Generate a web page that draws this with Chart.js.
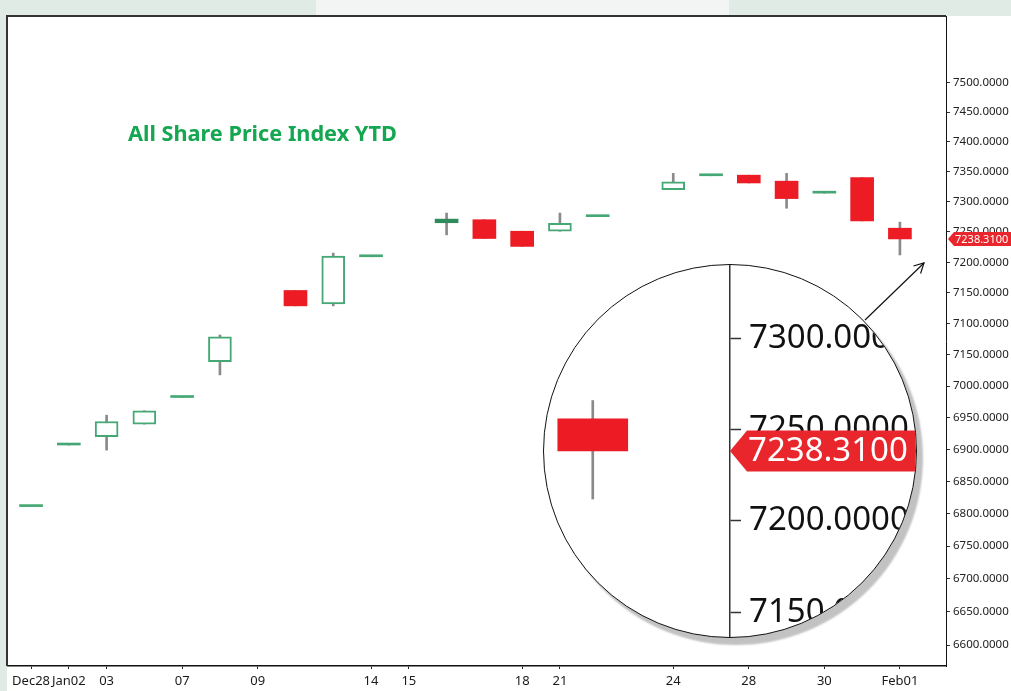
<!DOCTYPE html>
<html>
<head>
<meta charset="utf-8">
<script src="https://cdn.jsdelivr.net/npm/chart.js@4.4.1/dist/chart.umd.min.js"></script>
<style>
  html, body { margin: 0; padding: 0; background: #fff; overflow: hidden; }
  #wrap { position: relative; width: 1011px; height: 691px; }
  #main { position: absolute; left: 0; top: 0; }
  #title { position: absolute; left: 128px; top: 118px; font: bold 21.7px 'Noto Sans', sans-serif; color: #14a650; white-space: nowrap; }
  #lens { position: absolute; left: 543px; top: 264px; width: 374px; height: 374px; box-sizing: border-box;
          border: 1px solid #111; border-radius: 50%; overflow: hidden; background: #fff; box-shadow: 6px 7px 2px #c2c2c2; }
  #lensCv { position: absolute; left: 0; top: 0; }
  #arrow { position: absolute; left: 0; top: 0; pointer-events: none; }
</style>
</head>
<body>
<div id="wrap">
  <canvas id="main" width="1011" height="691"></canvas>
  <div id="title">All Share Price Index YTD</div>
  <div id="lens"><canvas id="lensCv" width="460" height="372"></canvas></div>
  <svg id="arrow" width="1011" height="691">
    <line x1="865" y1="320" x2="924" y2="263" stroke="#111" stroke-width="1.2"/>
    <polyline points="913.4,266 924,263 920.6,273.5" fill="none" stroke="#111" stroke-width="1.2"/>
  </svg>
</div>
<script>
// trading days, Dec 28 -> Feb 01
const days = ['Dec28','Jan02','Jan03','Jan04','Jan07','Jan08','Jan09','Jan10','Jan11','Jan14','Jan15','Jan16',
              'Jan17','Jan18','Jan21','Jan22','Jan23','Jan24','Jan25','Jan28','Jan29','Jan30','Jan31','Feb01'];
const opens  = [6811,6907,6920,6940,6982,7039,null,7154,7132,7209,null,7265,7270,7251,7251,7275,null,7320,7343,7344,7334,7314,7340,7256];
const highs  = [6811,6907,6954,6961,6982,7082,null,7154,7215,7209,null,7281,7270,7251,7281,7275,null,7347,7343,7344,7347,7314,7340,7266];
const lows   = [6811,6907,6899,6940,6982,7018,null,7129,7129,7209,null,7245,7239,7226,7251,7275,null,7320,7343,7331,7289,7314,7268,7212];
const closes = [6811,6907,6944,6961,6982,7079,null,7129,7210,7209,null,7271,7239,7226,7264,7275,null,7333,7343,7331,7305,7314,7268,7238.31];

// axis ticks
const xTickIdx  = [0,1,2,4,6,9,10,13,14,17,19,21,23];
const xTickText = ['Dec28','Jan02','03','07','09','14','15','18','21','24','28','30','Feb01'];
const yTickVals = [6600,6650,6700,6750,6800,6850,6900,6950,7000,7050,7100,7150,7200,7250,7300,7350,7400,7450,7500];
const yTickText = ['6600.0000','6650.0000','6700.0000','6750.0000','6800.0000','6850.0000','6900.0000','6950.0000',
                   '7000.0000','7150.0000','7100.0000','7150.0000','7200.0000','7250.0000','7300.0000','7350.0000',
                   '7400.0000','7450.0000','7500.0000'];

const GREEN = '#45a874', DARKGREEN = '#2f8a5c', RED = '#ed1c24', WICK = '#8a8a8a', TAG = '#e8262c';
const FONT = "'Noto Sans', sans-serif";

const live = days.map((d, i) => i).filter(i => opens[i] !== null);
const isUp = i => closes[i] >= opens[i];
const isFlat = i => Math.abs(closes[i] - opens[i]) < 8;
const lastClose = closes[closes.length - 1];

function bodyFill(i) {
  if (!isUp(i)) return RED;
  if (isFlat(i)) return closes[i] > opens[i] ? DARKGREEN : GREEN;
  return '#ffffff';
}

function candleSets(bodyW) {
  return [
    {
      data: live.map(i => ({x: i, y: [opens[i], closes[i]]})),
      backgroundColor: live.map(bodyFill),
      borderColor: live.map(i => isUp(i) ? GREEN : RED),
      borderWidth: live.map(i => isUp(i) && !isFlat(i) ? 2 : 0),
      borderSkipped: false, minBarLength: 2, barThickness: bodyW, grouped: false, order: 1
    },
    {
      data: live.map(i => ({x: i, y: [lows[i], highs[i]]})),
      backgroundColor: WICK, borderWidth: 0, barThickness: 2, grouped: false, order: 2
    }
  ];
}

// red price tag on the right axis
const tagPlugin = {
  id: 'tag',
  afterDraw(chart, args, o) {
    const ctx = chart.ctx, y = chart.scales.y.getPixelForValue(lastClose), x0 = chart.chartArea.right;
    ctx.save();
    ctx.fillStyle = TAG;
    ctx.beginPath();
    ctx.moveTo(x0 + o.gap, y);
    ctx.lineTo(x0 + o.gap + o.notch, y - o.half);
    ctx.lineTo(chart.width, y - o.half);
    ctx.lineTo(chart.width, y + o.half);
    ctx.lineTo(x0 + o.gap + o.notch, y + o.half);
    ctx.closePath();
    ctx.fill();
    ctx.fillStyle = '#fff';
    ctx.font = o.size + 'px ' + FONT;
    ctx.textBaseline = 'middle';
    ctx.fillText(lastClose.toFixed(4), x0 + o.gap + o.notch + 1, y + 1);
    ctx.restore();
  }
};

// page background bands + frame
const framePlugin = {
  id: 'frame',
  beforeDraw(chart) {
    const ctx = chart.ctx, a = chart.chartArea;
    ctx.save();
    ctx.fillStyle = '#fff';
    ctx.fillRect(0, 0, chart.width, chart.height);
    ctx.fillStyle = '#dfebe4';
    ctx.fillRect(0, 0, chart.width, a.top);
    ctx.fillRect(0, 0, a.left - 1, chart.height);
    ctx.fillStyle = '#f3f5f4';
    ctx.fillRect(316, 0, 413, a.top - 1);
    ctx.restore();
  },
  afterDraw(chart) {
    const ctx = chart.ctx, a = chart.chartArea;
    ctx.save();
    ctx.strokeStyle = '#333';
    ctx.lineWidth = 2;
    ctx.beginPath();
    ctx.moveTo(a.left - 1, a.bottom);
    ctx.lineTo(a.left - 1, a.top);
    ctx.lineTo(a.right, a.top);
    ctx.stroke();
    ctx.restore();
  }
};

const yLabel = v => { const k = yTickVals.indexOf(v); return k < 0 ? '' : yTickText[k]; };
const noPad = s => { s.paddingTop = 0; s.paddingBottom = 0; s.paddingLeft = 0; s.paddingRight = 0; };

new Chart(document.getElementById('main'), {
  type: 'bar',
  data: {datasets: candleSets(23)},
  plugins: [framePlugin, tagPlugin],
  options: {
    responsive: false, animation: false,
    layout: {padding: {left: 8, top: 16, right: 0, bottom: 0}},
    plugins: {legend: {display: false}, tooltip: {enabled: false},
              tag: {gap: 2, notch: 6, half: 7, size: 11}},
    scales: {
      x: {
        type: 'linear', min: -0.61, max: 24.22, offset: false,
        afterBuildTicks: s => { s.ticks = xTickIdx.map(v => ({value: v})); },
        afterFit: s => { s.height = 25; noPad(s); },
        grid: {display: true, drawOnChartArea: false, offset: false, tickLength: 3, tickColor: '#222'},
        border: {color: '#111', width: 1.5},
        ticks: {autoSkip: false, maxRotation: 0, padding: 4, color: '#1a1a1a', font: {family: FONT, size: 13},
                callback: v => { const k = xTickIdx.indexOf(v); return k < 0 ? '' : xTickText[k]; }}
      },
      y: {
        type: 'logarithmic', position: 'right', min: 6568.6, max: 7614.6,
        afterBuildTicks: s => { s.ticks = yTickVals.map(v => ({value: v})); },
        afterFit: s => { s.width = 65; noPad(s); },
        grid: {display: true, drawOnChartArea: false, tickLength: 4, tickColor: '#333'},
        border: {color: '#111', width: 1},
        ticks: {padding: 3, color: '#222', font: {family: FONT, size: 11.5}, callback: yLabel}
      }
    }
  }
});

// magnified view of the last candle and its price tag
new Chart(document.getElementById('lensCv'), {
  type: 'bar',
  data: {datasets: candleSets(70)},
  plugins: [tagPlugin],
  options: {
    responsive: false, animation: false,
    layout: {padding: 0},
    plugins: {legend: {display: false}, tooltip: {enabled: false},
              tag: {gap: 0, notch: 17, half: 20.5, size: 33}},
    scales: {
      x: {type: 'linear', min: 22.57, max: 24.21, offset: false, display: false,
          grid: {offset: false}, afterFit: s => { s.height = 0; noPad(s); }},
      y: {
        type: 'logarithmic', position: 'right', min: 7137, max: 7341,
        afterBuildTicks: s => { s.ticks = yTickVals.filter(v => v > 7137 && v < 7341).map(v => ({value: v})); },
        afterFit: s => { s.width = 274; noPad(s); },
        grid: {display: true, drawOnChartArea: false, tickLength: 11, tickWidth: 1.5, tickColor: '#333'},
        border: {color: '#333', width: 1.5},
        ticks: {padding: 8, color: '#111', font: {family: FONT, size: 33}, callback: yLabel}
      }
    }
  }
});
</script>
</body>
</html>
